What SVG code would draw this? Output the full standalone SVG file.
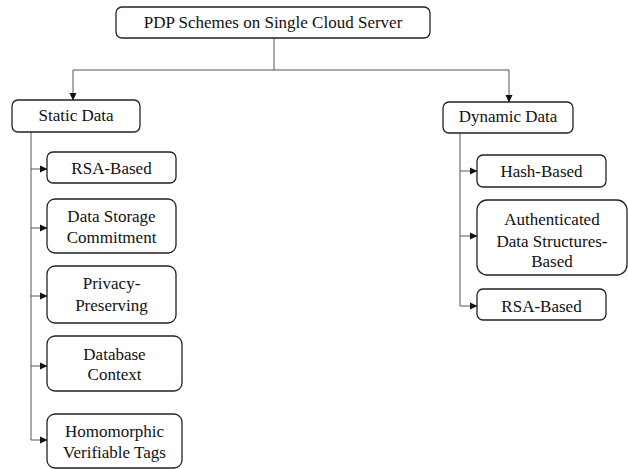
<svg xmlns="http://www.w3.org/2000/svg" width="628" height="469" viewBox="0 0 628 469">
<style>
.box{fill:#fff;stroke:#222;stroke-width:1.3}
.t{font-family:"Liberation Serif","DejaVu Serif",serif;font-size:17px;fill:#111;text-anchor:middle}
.c{fill:none;stroke:#555;stroke-width:1}
</style>
<defs>
<marker id="ah" markerWidth="8" markerHeight="8" refX="7" refY="4" orient="auto" markerUnits="userSpaceOnUse">
<path d="M0,0.5 L7.5,4 L0,7.5 z" fill="#111"/>
</marker>
</defs>
<rect width="628" height="469" fill="#fff"/>
<g id="connectors">
<path class="c" d="M274,38 V70"/>
<path class="c" d="M73,70 H509"/>
<path class="c" d="M73,70 V100" marker-end="url(#ah)"/>
<path class="c" d="M509,70 V102" marker-end="url(#ah)"/>
<path class="c" d="M31,132 V440"/>
<path class="c" d="M31,169 H47" marker-end="url(#ah)"/>
<path class="c" d="M31,228 H47" marker-end="url(#ah)"/>
<path class="c" d="M31,296 H47" marker-end="url(#ah)"/>
<path class="c" d="M31,366 H47" marker-end="url(#ah)"/>
<path class="c" d="M31,440 H47" marker-end="url(#ah)"/>
<path class="c" d="M460,133 V306"/>
<path class="c" d="M460,171 H477" marker-end="url(#ah)"/>
<path class="c" d="M460,236 H477" marker-end="url(#ah)"/>
<path class="c" d="M460,306 H477" marker-end="url(#ah)"/>
</g>
<g id="root"><rect class="box" x="116" y="7" width="314" height="31" rx="6"/><text class="t" x="273" y="28">PDP Schemes on Single Cloud Server</text></g>
<g id="static"><rect class="box" x="12" y="100" width="128" height="32" rx="6"/><text class="t" x="76" y="121">Static Data</text></g>
<g id="dynamic"><rect class="box" x="443" y="102" width="130" height="31" rx="6"/><text class="t" x="508" y="122">Dynamic Data</text></g>
<g id="s-rsa"><rect class="box" x="47" y="152" width="129" height="31" rx="6"/><text class="t" x="111.5" y="174">RSA-Based</text></g>
<g id="s-dsc"><rect class="box" x="47" y="199" width="129" height="54" rx="8"/><text class="t" x="111.5" y="222">Data Storage</text><text class="t" x="111.5" y="243">Commitment</text></g>
<g id="s-pp"><rect class="box" x="47" y="266" width="129" height="57" rx="8"/><text class="t" x="111.5" y="289">Privacy-</text><text class="t" x="111.5" y="311">Preserving</text></g>
<g id="s-db"><rect class="box" x="47" y="336" width="135" height="55" rx="8"/><text class="t" x="114.5" y="360">Database</text><text class="t" x="114.5" y="380">Context</text></g>
<g id="s-hvt"><rect class="box" x="47" y="414" width="135" height="54" rx="8"/><text class="t" x="114.5" y="437">Homomorphic</text><text class="t" x="114.5" y="458">Verifiable Tags</text></g>
<g id="d-hash"><rect class="box" x="477" y="155" width="129" height="32" rx="6"/><text class="t" x="541.5" y="177">Hash-Based</text></g>
<g id="d-ads"><rect class="box" x="477" y="200" width="150" height="75" rx="10"/><text class="t" x="552" y="225">Authenticated</text><text class="t" x="552" y="247">Data Structures-</text><text class="t" x="552" y="267">Based</text></g>
<g id="d-rsa"><rect class="box" x="477" y="289" width="129" height="31" rx="6"/><text class="t" x="541.5" y="312">RSA-Based</text></g>
</svg>
